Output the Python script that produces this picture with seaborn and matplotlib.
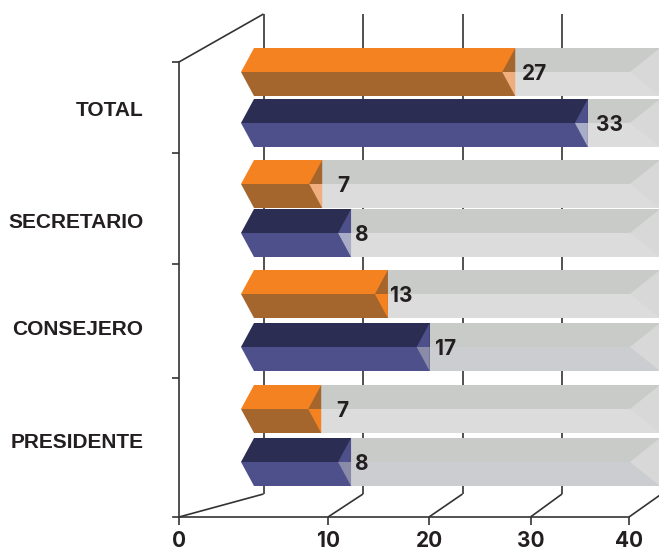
"""Faux 3D horizontal bars, TOTAL / SECRETARIO / CONSEJERO / PRESIDENTE"""
import matplotlib
matplotlib.use("Agg")
import matplotlib.pyplot as plt
from matplotlib.patches import Polygon
import numpy as np
import pandas as pd
import seaborn as sns

CATEGORIES = ["TOTAL", "SECRETARIO", "CONSEJERO", "PRESIDENTE"]
ORANGE_LABELS = [27, 7, 13, 7]
BLUE_LABELS = [33, 8, 17, 8]
# where the bar ends actually land on the back wall scale (not the same as the printed numbers)
ORANGE_LENGTHS = [25.3, 5.9, 12.5, 5.8]
BLUE_LENGTHS = [32.6, 8.8, 16.7, 8.8]
TICK_LABELS = ["0", "10", "20", "30", "40"]
BACK_TICKS = [0, 10, 20, 30, 40]

# layout, in pixels of the 659x550 picture
W, H = 659, 550
X0_PX, PX_PER_UNIT = 263.5, 9.95
LEFT_PX, BOTTOM_PX, TOP_PX = 179, 517, 14
ORANGE_CENTERS = [72, 184, 294, 409]
BLUE_CENTERS = [123, 233, 347, 462]
FRONT_TICKS_PX = [179, 328, 429, 530.5, 629]
BACK_BOTTOM_PX = 494
WALL_TICKS_PX = [62, 153, 264, 378]
LABEL_Y_PX = [108, 221, 328, 441]
HALF = 24
TIP = 13
WEDGE_START_PX = 630

ORANGE_OFFSET_PX = [7, 15, 2, 15]
BLUE_OFFSET_PX = [8, 4, 5, 4]

ORANGE_TOP, ORANGE_LOW = "#F58220", "#A5662E"
BLUE_TOP, BLUE_LOW = "#2B2D53", "#4D508A"
ORANGE_FACET = ["#F0AE7E", "#F0AE7E", "#F58220", "#F58220"]
BLUE_FACET = ["#A9ADC8", "#A9ADC8", "#8A8BA9", "#8A8BA9"]
TRACK_TOP, TRACK_LOW, TRACK_LOW_ALT, WEDGE = "#C9CBC9", "#DCDCDC", "#CCCDD1", "#D7D8D7"
LINE = "#333333"
TEXT = "#231F20"


def px(x):
    """Picture pixel to value on the back wall scale"""
    return (x - X0_PX) / PX_PER_UNIT


def half_bars(ax, values, positions, color):
    """One half height layer of bars through seaborn"""
    df = pd.DataFrame({"value": values, "pos": positions})
    span = np.diff(sorted(positions)).min()
    sns.barplot(data=df, x="value", y="pos", orient="y", native_scale=True,
                color=color, width=HALF / span, saturation=1, linewidth=0, ax=ax)


def draw_bar_faces(ax, lengths, centers, top, low, facet_top, facets):
    half_bars(ax, lengths, np.array(centers) - HALF / 2, top)
    half_bars(ax, lengths, np.array(centers) + HALF / 2, low)
    d = TIP / PX_PER_UNIT
    for val, c, facet in zip(lengths, centers, facets):
        # pointed left end, then the two facets at the right end
        ax.add_patch(Polygon([(px(241), c), (px(254), c - HALF), (0.1, c - HALF), (0.1, c)],
                             fc=top, lw=0, zorder=3))
        ax.add_patch(Polygon([(px(241), c), (px(254), c + HALF), (0.1, c + HALF), (0.1, c)],
                             fc=low, lw=0, zorder=3))
        ax.add_patch(Polygon([(val - d, c), (val, c - HALF), (val, c)],
                             fc=facet_top, lw=0, zorder=3))
        ax.add_patch(Polygon([(val - d, c), (val, c + HALF), (val, c)],
                             fc=facet, lw=0, zorder=3))


def draw_tracks(ax, centers, low_centers, alt_centers):
    half_bars(ax, [45] * len(centers), np.array(centers) - HALF / 2, TRACK_TOP)
    half_bars(ax, [45] * len(low_centers), np.array(low_centers) + HALF / 2, TRACK_LOW)
    half_bars(ax, [45] * len(alt_centers), np.array(alt_centers) + HALF / 2, TRACK_LOW_ALT)
    for c in centers:
        # notch at the far right of the track
        ax.add_patch(Polygon([(px(WEDGE_START_PX), c), (px(W + 1), c - HALF), (px(W + 1), c + HALF)],
                             fc=WEDGE, lw=0, zorder=2))


def plot_chart():
    sns.set_style("white")
    plt.rcParams["font.family"] = ["Inter", "DejaVu Sans"]
    fig = plt.figure(figsize=(W / 100, H / 100), dpi=100)
    ax = fig.add_axes([LEFT_PX / W, (H - BOTTOM_PX) / H,
                       (W - LEFT_PX) / W, (BOTTOM_PX - TOP_PX) / H])

    # back wall and floor lines, behind the bars
    line = dict(color=LINE, lw=1.2, zorder=0.5, clip_on=False, solid_capstyle="butt")
    for tick, front in zip(BACK_TICKS, FRONT_TICKS_PX):
        ax.plot([tick, tick], [TOP_PX, BACK_BOTTOM_PX], **line)
        ax.plot([tick, px(front)], [BACK_BOTTOM_PX, BOTTOM_PX], **line)
    ax.plot([0, px(LEFT_PX)], [TOP_PX, WALL_TICKS_PX[0]], **line)

    # the lower half of the tracks is a cooler grey on the last two blue rows
    draw_tracks(ax, ORANGE_CENTERS, ORANGE_CENTERS + BLUE_CENTERS[:2], BLUE_CENTERS[2:])
    draw_tracks(ax, BLUE_CENTERS, ORANGE_CENTERS + BLUE_CENTERS[:2], BLUE_CENTERS[2:])
    draw_bar_faces(ax, ORANGE_LENGTHS, ORANGE_CENTERS, ORANGE_TOP, ORANGE_LOW, ORANGE_LOW, ORANGE_FACET)
    draw_bar_faces(ax, BLUE_LENGTHS, BLUE_CENTERS, BLUE_TOP, BLUE_LOW, BLUE_LOW, BLUE_FACET)

    for vals, labels, centers, offs in [(ORANGE_LENGTHS, ORANGE_LABELS, ORANGE_CENTERS, ORANGE_OFFSET_PX),
                                        (BLUE_LENGTHS, BLUE_LABELS, BLUE_CENTERS, BLUE_OFFSET_PX)]:
        for val, lab, c, off in zip(vals, labels, centers, offs):
            ax.text(val + off / PX_PER_UNIT, c, str(lab), ha="left", va="center_baseline",
                    fontsize=15, fontweight="bold", color=TEXT, zorder=5)

    ax.set_xlim(px(LEFT_PX), px(W))
    ax.set_ylim(BOTTOM_PX, TOP_PX)
    ax.set_xlabel("")
    ax.set_ylabel("")

    ax.set_xticks([px(x) for x in FRONT_TICKS_PX], TICK_LABELS)
    ax.tick_params(axis="x", length=6, width=1.2, color=LINE, pad=4, labelsize=15,
                   labelcolor=TEXT, bottom=True)
    for lab in ax.get_xticklabels():
        lab.set_fontweight("bold")

    ax.set_yticks(WALL_TICKS_PX, [""] * 4)
    ax.tick_params(axis="y", which="major", length=5, width=1.2, color=LINE, left=True)
    ax.set_yticks(LABEL_Y_PX, CATEGORIES, minor=True)
    ax.tick_params(axis="y", which="minor", length=0, pad=25.5, labelsize=15, labelcolor=TEXT)
    for lab in ax.get_yticklabels(minor=True):
        lab.set_fontweight("bold")
        lab.set_fontfamily("Liberation Sans")

    for side in ["top", "right"]:
        ax.spines[side].set_visible(False)
    ax.spines["left"].set_color(LINE)
    ax.spines["left"].set_linewidth(1.2)
    ax.spines["left"].set_bounds(BOTTOM_PX, WALL_TICKS_PX[0])
    ax.spines["bottom"].set_color(LINE)
    ax.spines["bottom"].set_linewidth(1.2)
    ax.spines["bottom"].set_bounds(px(173), px(FRONT_TICKS_PX[-1]))
    ax.patch.set_alpha(0)

    fig.savefig("out.png", dpi=100)


if __name__ == "__main__":
    plot_chart()
